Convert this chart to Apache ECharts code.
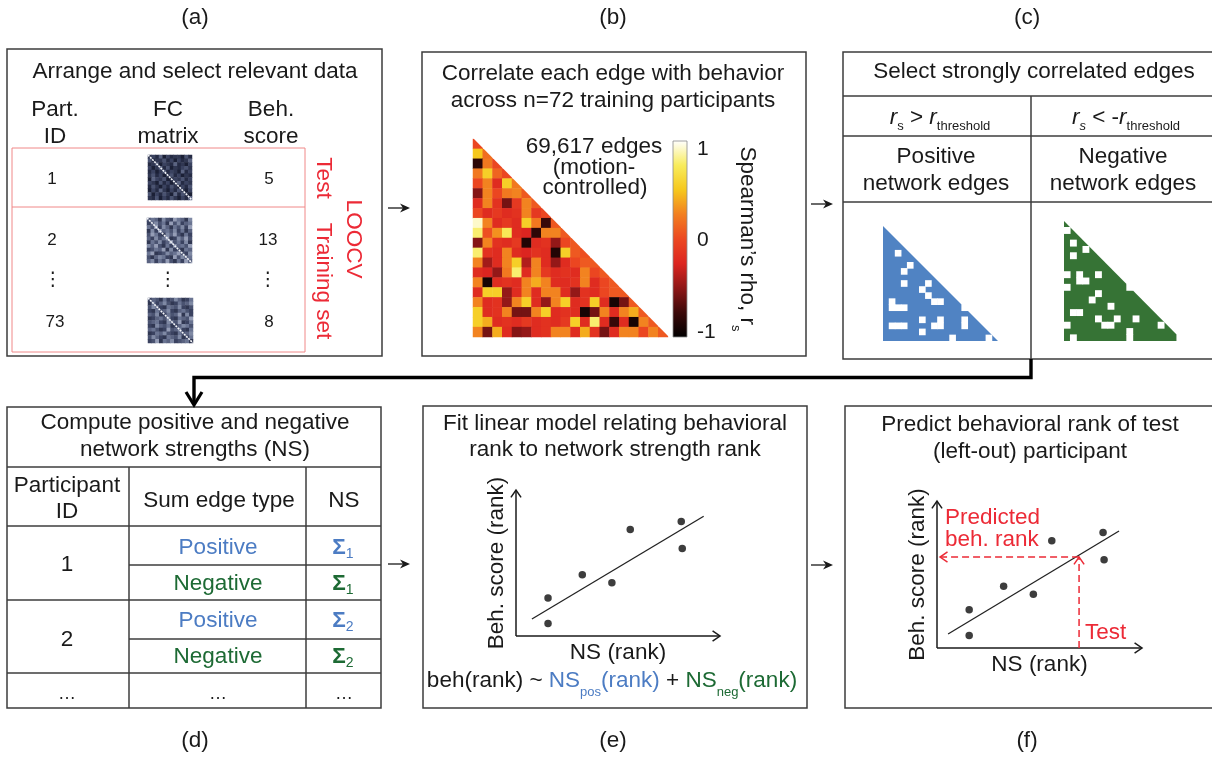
<!DOCTYPE html>
<html>
<head>
<meta charset="utf-8">
<title>Connectome-based predictive modelling pipeline</title>
<script src="https://cdn.jsdelivr.net/npm/echarts@6.0.0/dist/echarts.min.js"></script>
<style>
  html, body { margin: 0; padding: 0; background: #fff; }
  #chart { width: 1212px; height: 757px; }
</style>
</head>
<body>
<div id="chart"></div>
<script>
// ---------- values ----------
const panelLabels = ['(a)', '(b)', '(c)', '(d)', '(e)', '(f)'];

// (a) example participants and their behavioural scores
const participantIds = ['1', '2', '73'];
const behScores = ['5', '13', '8'];

// FC matrix thumbnails, one digit (0 dark .. 9 light) per cell
const fcMatrix1 = [
  '231503122041', '412241303125', '124032151203', '302514021342',
  '130241320513', '241302413021', '053240132413', '320413025132',
  '142031420314', '031520314203', '403142051420', '214031420315'
];
const fcMatrix2 = [
  '465274386527', '357462847356', '648375264738', '273856473625',
  '486327584263', '537468237584', '264735846372', '758426375648',
  '346582734265', '682347568437', '425763284756', '573648426385'
];
const fcMatrix73 = [
  '354263475236', '263574236457', '475326547324', '326457325643',
  '547236458273', '235647326548', '456327548236', '327546235764',
  '564238457326', '236574326457', '475326547236', '348265734562'
];

// (b) Spearman correlation of each edge with behaviour, lower triangle, row by row
const rhoRows = [
  [0.0],
  [0.55, 0.2],
  [-0.85, 0.25, 0.0],
  [0.25, 0.6, 0.15, 0.0],
  [0.0, 0.3, -0.2, 0.6, 0.25],
  [-0.55, 0.3, 0.0, 0.25, 0.3, 0.1],
  [-0.2, 0.3, -0.15, -0.6, -0.1, 0.3, 0.1],
  [0.0, -0.2, -0.1, -0.2, -0.15, 0.3, -0.1, 0.0],
  [1.0, 0.3, -0.2, -0.1, -0.2, 0.6, 0.25, -0.8, 0.1],
  [0.85, 0.05, 0.35, 0.8, -0.2, -0.25, -0.85, 0.3, 0.3, 0.1],
  [-0.55, 0.3, -0.15, -0.2, -0.1, -0.9, -0.2, -0.15, -0.5, 0.0, 0.1],
  [0.85, -0.15, -0.2, 0.3, -0.2, -0.25, -0.15, -0.2, -0.9, 0.6, 0.1, 0.05],
  [0.3, -0.45, -0.2, 0.3, 0.6, -0.4, 0.3, -0.2, -0.5, -0.2, 0.0, 0.1, 0.1],
  [-0.2, -0.25, -0.5, 0.25, 0.85, -0.2, 0.3, -0.1, -0.2, -0.15, -0.2, 0.3, 0.0, 0.1],
  [0.3, -0.95, -0.2, -0.15, -0.2, 0.3, 0.45, 0.3, -0.2, -0.2, -0.15, 0.3, -0.2, 0.0, 0.1],
  [-0.2, 0.6, 0.6, -0.5, -0.2, 0.3, -0.2, 0.3, 0.3, -0.2, -0.5, -0.15, -0.2, 0.0, 0.1, 0.1],
  [0.3, -0.2, -0.15, -0.5, 0.3, 0.6, -0.2, -0.5, 0.3, 0.6, -0.2, -0.15, 0.6, -0.2, -0.95, -0.6, 0.1],
  [0.6, -0.2, -0.15, 0.3, -0.6, -0.6, 0.3, 0.6, -0.2, -0.15, -0.2, -0.95, -0.6, 0.3, -0.2, 0.3, 0.45, 0.1],
  [0.6, 0.45, -0.2, -0.15, -0.2, -0.1, -0.2, -0.15, -0.2, -0.1, 0.6, -0.2, 0.85, -0.2, -0.8, -0.2, -0.95, 0.3, 0.1],
  [0.3, -0.6, 0.45, -0.2, -0.55, -0.5, -0.2, -0.15, 0.3, 0.3, -0.2, 0.45, -0.15, -0.6, -0.2, 0.3, 0.3, 0.0, 0.3, 0.1]
];
const rhoTicks = [-1, 0, 1];
const rhoAxisRange = [-1.055, 1.087];
const edgeNote = ['69,617 edges', '(motion-', 'controlled)'];

// (c) edges that fail the threshold, [row, col] on a 19 x 19 mask
const maskSize = 19;
const posHoles = [
  [4, 2], [6, 4], [7, 3], [9, 3], [9, 7], [10, 6], [11, 7], [12, 8], [12, 9], [12, 1],
  [13, 1], [13, 2], [13, 3], [13, 13], [15, 6], [15, 9], [15, 13], [16, 1], [16, 2], [16, 3],
  [16, 8], [16, 9], [16, 13], [17, 6], [18, 11], [18, 17]
];
const negHoles = [
  [1, 0], [3, 1], [4, 3], [5, 1], [8, 0], [8, 2], [8, 5], [9, 2], [9, 3], [10, 0],
  [10, 10], [11, 5], [12, 4], [13, 7], [14, 1], [14, 2], [15, 5], [15, 8], [15, 11], [16, 0],
  [16, 6], [16, 7], [16, 15], [17, 10], [18, 1], [18, 10], [18, 18]
];

// (e)/(f) network-strength rank vs behavioural rank of training participants
const nsRank = [1.57, 1.57, 3.25, 4.7, 5.6, 8.1, 8.15];
const behRank = [2.6, 0.85, 4.2, 3.65, 7.3, 7.85, 6.0];
const fitLineE = [[0.78, 1.16], [9.2, 8.2]];
const fitLineF = [[0.54, 0.95], [8.88, 7.96]];
const testNS = 6.93;
const predictedBeh = 6.19;

// ---------- styling ----------
const FONT = '"Liberation Sans", Arial, Helvetica, sans-serif';
const FS = 22.5;
const INK = '#1a1a1a';
const FRAME = '#3c3c3c';
const RED = '#ec2a36';
const BLUE_TXT = '#4c7cc3';
const GREEN_TXT = '#1d6a34';
const BLUE_FILL = '#5083c3';
const GREEN_FILL = '#367335';
const hotColors = ['#000000', '#3b0909', '#8e1717', '#dc2520', '#ec4821', '#f27f20', '#f6c81d', '#f8ec5c', '#ffffff'];
const fcColors = ['#1b2036', '#3a4260', '#6a7492', '#aab2c8'];

// ---------- derived series data ----------
const rhoData = [];
rhoRows.forEach((row, r) => row.forEach((v, c) => rhoData.push([c, r, v])));
const idx = n => Array.from({ length: n }, (_, i) => String(i));
const fcData = m => {
  const out = [];
  m.forEach((row, r) => row.split('').forEach((d, c) => out.push([c, r, Number(d)])));
  return out;
};
const holeData = h => h.map(([r, c]) => [c + 0.5, r + 0.5]);
const rankPoints = nsRank.map((x, i) => [x, behRank[i]]);
const axisArrows = [[0, 0, 10, 0], [0, 0, 0, 10]];
const predictArrows = [[testNS, 0, testNS, predictedBeh], [testNS, predictedBeh, 0.15, predictedBeh]];

// ---------- grids & axes ----------
const grids = [
  { left: 473, top: 139, width: 195, height: 198 },  // 0 correlation matrix
  { left: 673, top: 141, width: 14, height: 196 },   // 1 colour bar
  { left: 883, top: 226, width: 115, height: 115 },  // 2 positive mask
  { left: 1064, top: 221, width: 119, height: 120 }, // 3 negative mask
  { left: 516, top: 490, width: 204, height: 146 },  // 4 model fit
  { left: 937, top: 501, width: 205, height: 147 },  // 5 prediction
  { left: 148, top: 155, width: 44, height: 45 },    // 6-8 FC thumbnails
  { left: 147, top: 218, width: 45, height: 45 },
  { left: 148, top: 298, width: 45, height: 45 }
].map(g => Object.assign({ containLabel: false, outerBoundsMode: 'none' }, g));

const hidden = { axisLine: { show: false }, axisTick: { show: false }, axisLabel: { show: false }, splitLine: { show: false } };
const catAxis = (gi, n, inv) => Object.assign({ gridIndex: gi, type: 'category', data: idx(n), inverse: !!inv, show: false }, hidden);
const valAxis = (gi, min, max, inv, extra) => Object.assign({ gridIndex: gi, type: 'value', min, max, inverse: !!inv }, hidden, extra || {});

const nameStyle = { fontSize: FS, color: INK, fontFamily: FONT };
const xName = { name: 'NS (rank)', nameLocation: 'middle', nameGap: 5, nameTextStyle: Object.assign({ verticalAlign: 'top' }, nameStyle) };
const yName = { name: 'Beh. score (rank)', nameLocation: 'middle', nameGap: 8, nameRotate: 90, nameTextStyle: nameStyle };
const xAxes = [
  catAxis(0, 20),
  valAxis(1, 0, 1, false, { show: false }),
  valAxis(2, 0, maskSize, false, { show: false }),
  valAxis(3, 0, maskSize, false, { show: false }),
  valAxis(4, 0, 10, false, xName),
  valAxis(5, 0, 10, false, xName),
  catAxis(6, 12), catAxis(7, 12), catAxis(8, 12)
];
const yAxes = [
  catAxis(0, 20, true),
  {
    gridIndex: 1, type: 'value', min: rhoAxisRange[0], max: rhoAxisRange[1], position: 'right',
    axisLine: { show: false }, axisTick: { show: false }, splitLine: { show: false },
    axisLabel: { customValues: rhoTicks, fontSize: 21, color: INK, fontFamily: FONT, margin: 10 }
  },
  valAxis(2, 0, maskSize, true, { show: false }),
  valAxis(3, 0, maskSize, true, { show: false }),
  valAxis(4, 0, 10, false, yName),
  valAxis(5, 0, 10, false, yName),
  catAxis(6, 12, true), catAxis(7, 12, true), catAxis(8, 12, true)
];

// ---------- series helpers ----------
function arrowSeries(gi, segs, color, width, dash, head) {
  return {
    type: 'custom', coordinateSystem: 'cartesian2d', xAxisIndex: gi, yAxisIndex: gi,
    data: segs, clip: false, silent: true, z: 6,
    renderItem(params, api) {
      const a = api.coord([api.value(0), api.value(1)]);
      const b = api.coord([api.value(2), api.value(3)]);
      const ang = Math.atan2(b[1] - a[1], b[0] - a[0]);
      const sp = 0.6;
      const p1 = [b[0] - head * Math.cos(ang - sp), b[1] - head * Math.sin(ang - sp)];
      const p2 = [b[0] - head * Math.cos(ang + sp), b[1] - head * Math.sin(ang + sp)];
      return {
        type: 'group', children: [
          { type: 'line', shape: { x1: a[0], y1: a[1], x2: b[0], y2: b[1] }, style: { stroke: color, lineWidth: width, lineDash: dash || null } },
          { type: 'polyline', shape: { points: [p1, b, p2] }, style: { stroke: color, lineWidth: width, fill: null } }
        ]
      };
    }
  };
}
function maskTriangle(gi, fill) {
  return {
    type: 'custom', coordinateSystem: 'cartesian2d', xAxisIndex: gi, yAxisIndex: gi,
    data: [[0, 0]], silent: true, z: 2,
    renderItem(params, api) {
      return { type: 'polygon', shape: { points: [api.coord([0, 0]), api.coord([0, maskSize]), api.coord([maskSize, maskSize])] }, style: { fill } };
    }
  };
}
function holeSeries(gi, holes) {
  const g = grids[gi];
  return {
    type: 'scatter', xAxisIndex: gi, yAxisIndex: gi, data: holeData(holes), silent: true, z: 3,
    symbol: 'rect', symbolSize: [g.width / maskSize + 0.6, g.height / maskSize + 0.6],
    itemStyle: { color: '#ffffff', opacity: 1 }
  };
}
function fcSeries(gi, m) {
  return { type: 'heatmap', xAxisIndex: gi, yAxisIndex: gi, data: fcData(m), silent: true, itemStyle: { borderWidth: 0 } };
}
function fcDiagonal(gi) {
  return {
    type: 'custom', coordinateSystem: 'cartesian2d', xAxisIndex: gi, yAxisIndex: gi,
    data: [[0, 0]], silent: true, z: 4,
    renderItem(params, api) {
      const s = api.size([1, 1]);
      const a = api.coord([0, 0]), b = api.coord([11, 11]);
      return { type: 'line', shape: { x1: a[0] - s[0] / 2, y1: a[1] - s[1] / 2, x2: b[0] + s[0] / 2, y2: b[1] + s[1] / 2 }, style: { stroke: '#f2f4f8', lineWidth: 1.6, lineDash: [2, 1] } };
    }
  };
}
function scatterSeries(gi) {
  return { type: 'scatter', xAxisIndex: gi, yAxisIndex: gi, data: rankPoints, symbol: 'circle', symbolSize: 7.5, itemStyle: { color: '#0d0d0d' }, silent: true, z: 5 };
}
function fitSeries(gi, pts) {
  return { type: 'line', xAxisIndex: gi, yAxisIndex: gi, data: pts, symbol: 'none', silent: true, z: 4, lineStyle: { color: '#222', width: 1.3 } };
}

const series = [
  // 0 correlation matrix
  { type: 'heatmap', xAxisIndex: 0, yAxisIndex: 0, data: rhoData, silent: true, itemStyle: { borderWidth: 0 } },
  // 1 upper triangle blanked along the diagonal
  {
    type: 'custom', coordinateSystem: 'cartesian2d', xAxisIndex: 0, yAxisIndex: 0, data: [[0, 0]], silent: true, z: 4,
    renderItem(params, api) {
      const s = api.size([1, 1]);
      const n = rhoRows.length;
      const tl = api.coord([0, 0]), br = api.coord([n - 1, n - 1]);
      const x0 = tl[0] - s[0] / 2, y0 = tl[1] - s[1] / 2, x1 = br[0] + s[0] / 2, y1 = br[1] + s[1] / 2;
      return { type: 'polygon', shape: { points: [[x0, y0 - 1], [x1 + 1, y0 - 1], [x1 + 1, y1]] }, style: { fill: '#ffffff' } };
    }
  },
  // 2 colour bar
  {
    type: 'custom', coordinateSystem: 'cartesian2d', xAxisIndex: 1, yAxisIndex: 1, data: [[0, 0]], silent: true, z: 3,
    renderItem(params, api) {
      const a = api.coord([0, rhoAxisRange[1]]), b = api.coord([1, rhoAxisRange[0]]);
      const n = hotColors.length;
      const stops = hotColors.map((c, i) => ({ offset: 1 - i / (n - 1), color: c })).reverse();
      return {
        type: 'rect', shape: { x: a[0], y: a[1], width: b[0] - a[0], height: b[1] - a[1] },
        style: { fill: new echarts.graphic.LinearGradient(0, 0, 0, 1, stops), stroke: '#8c8c8c', lineWidth: 0.8 }
      };
    }
  },
  // 3-6 thresholded masks
  maskTriangle(2, BLUE_FILL), holeSeries(2, posHoles),
  maskTriangle(3, GREEN_FILL), holeSeries(3, negHoles),
  // 7-9 model fit
  scatterSeries(4), fitSeries(4, fitLineE), arrowSeries(4, axisArrows, INK, 1.5, null, 9),
  // 10-13 prediction
  scatterSeries(5), fitSeries(5, fitLineF), arrowSeries(5, axisArrows, INK, 1.5, null, 9),
  arrowSeries(5, predictArrows, RED, 1.5, [7, 4], 9),
  // 14-16 FC thumbnails
  fcSeries(6, fcMatrix1), fcSeries(7, fcMatrix2), fcSeries(8, fcMatrix73),
  // 17-19 thumbnail diagonals
  fcDiagonal(6), fcDiagonal(7), fcDiagonal(8)
];

// ---------- annotation helpers ----------
function T(x, y, text, o) {
  o = o || {};
  const align = o.align || 'center';
  return {
    type: 'text', x, y, rotation: o.rot || 0, z: 20, silent: true,
    style: {
      text, fill: o.color || INK,
      font: (o.weight || 'normal') + ' ' + (o.size || FS) + 'px ' + (o.family || FONT),
      align, verticalAlign: 'middle', textAlign: align, textVerticalAlign: 'middle'
    }
  };
}
const tok = (size, extra) => Object.assign({ fontSize: size, fontFamily: FONT, fill: INK, verticalAlign: 'top', lineHeight: size === FS ? 24 : size }, extra || {});
const sub = (pad, extra) => tok(13, Object.assign({ lineHeight: 13, padding: [pad, 0, 0, 0] }, extra || {}));
function R(x, y, text, rich, o) {
  o = o || {};
  const align = o.align || 'center';
  return {
    type: 'text', x, y, rotation: o.rot || 0, z: 20, silent: true,
    style: { text, rich, x: 0, y: -12, align, verticalAlign: 'top', textAlign: align, textVerticalAlign: 'top' }
  };
}
const rect = (x, y, w, h, stroke, lw) => ({ type: 'rect', z: 15, silent: true, shape: { x, y, width: w, height: h }, style: { fill: 'none', stroke: stroke || FRAME, lineWidth: lw || 1.5 } });
const ln = (x1, y1, x2, y2, stroke, lw) => ({ type: 'line', z: 15, silent: true, shape: { x1, y1, x2, y2 }, style: { stroke: stroke || FRAME, lineWidth: lw || 1.5 } });
function stepArrow(x0, x1, y) {
  return [
    ln(x0, y, x1 - 5, y, INK, 1.3),
    { type: 'polygon', z: 15, silent: true, shape: { points: [[x1, y], [x1 - 10, y - 4.5], [x1 - 7, y], [x1 - 10, y + 4.5]] }, style: { fill: INK } }
  ];
}

const els = [];
// panel letters
[[195, 18], [613, 18], [1027, 18], [195, 741], [613, 741], [1027, 741]].forEach((p, i) => els.push(T(p[0], p[1], panelLabels[i])));

// panel frames
els.push(rect(7, 49, 375, 307), rect(422, 52, 384, 304), rect(843, 52, 400, 307),
          rect(7, 407, 374, 301), rect(423, 406, 384, 302), rect(845, 406, 400, 302));

// (a)
els.push(T(195, 72, 'Arrange and select relevant data'));
els.push(T(55, 110, 'Part.'), T(55, 137, 'ID'), T(168, 110, 'FC'), T(168, 137, 'matrix'), T(271, 110, 'Beh.'), T(271, 137, 'score'));
els.push(rect(12, 148, 293, 204, '#f08888', 1), ln(12, 207, 305, 207, '#f08888', 1));
[[179, 0], [240, 1], [322, 2]].forEach(([y, i]) => {
  els.push(T(i === 2 ? 55 : 52, y, participantIds[i], { size: 17 }));
  els.push(T(i === 1 ? 268 : 269, y, behScores[i], { size: 17 }));
});
[53, 168, 268].forEach(x => els.push(T(x, 280, '⋮', { size: 19, family: '"DejaVu Sans", sans-serif' })));
els.push(T(323, 178, 'Test', { color: RED, rot: -Math.PI / 2 }));
els.push(T(323, 281, 'Training set', { color: RED, rot: -Math.PI / 2 }));
els.push(T(353, 239, 'LOOCV', { color: RED, rot: -Math.PI / 2 }));
els.push(...stepArrow(388, 410, 208));

// (b)
els.push(T(613, 74, 'Correlate each edge with behavior'), T(613, 101, 'across n=72 training participants'));
els.push(T(594, 147, edgeNote[0]), T(594, 168, edgeNote[1]), T(595, 188, edgeNote[2]));
els.push(R(747, 239, '{m|Spearman’s rho, r}{s|s}', { m: tok(FS), s: sub(16.5) }, { rot: -Math.PI / 2 }));
els.push(...stepArrow(811, 833, 204));

// (c)
els.push(T(1034, 72, 'Select strongly correlated edges'));
els.push(ln(843, 96, 1213, 96), ln(843, 136, 1213, 136), ln(843, 202, 1213, 202), ln(1031, 96, 1031, 359));
const thrRich = { i: tok(FS, { fontStyle: 'italic' }), m: tok(FS), s: sub(13.5), si: sub(13.5, { fontStyle: 'italic' }), t: sub(13.5) };
els.push(R(940, 118, '{i|r}{s|s}{m| > }{i|r}{t|threshold}', thrRich));
els.push(R(1126, 118, '{i|r}{si|s}{m| < -}{i|r}{t|threshold}', thrRich));
els.push(T(936, 157, 'Positive'), T(936, 184, 'network edges'), T(1123, 157, 'Negative'), T(1123, 184, 'network edges'));

// connector from (c) down to (d)
els.push({ type: 'polyline', z: 15, silent: true, shape: { points: [[1031, 359], [1031, 377.5], [194, 377.5], [194, 404]] }, style: { stroke: '#000', lineWidth: 3.4, fill: null } });
els.push({ type: 'polyline', z: 15, silent: true, shape: { points: [[186, 392], [194, 405], [202, 392]] }, style: { stroke: '#000', lineWidth: 3.2, fill: null } });

// (d)
els.push(T(195, 423, 'Compute positive and negative'), T(195, 450, 'network strengths (NS)'));
els.push(ln(7, 467, 381, 467), ln(129, 467, 129, 708), ln(306, 467, 306, 708), ln(7, 526, 381, 526),
          ln(129, 565, 381, 565), ln(7, 600, 381, 600), ln(129, 639, 381, 639), ln(7, 673, 381, 673));
els.push(T(67, 486, 'Participant'), T(67, 512, 'ID'), T(219, 501, 'Sum edge type'), T(344, 501, 'NS'));
const sigRich = c => ({ b: tok(FS, { fontWeight: 'bold', fill: c }), n: tok(14, { fill: c, lineHeight: 14, padding: [11, 0, 0, 0] }) });
[[565, 548, 584, '1'], [640, 621, 657, '2']].forEach(([yc, yp, yn, k]) => {
  els.push(T(67, yc, k));
  els.push(T(218, yp, 'Positive', { color: BLUE_TXT }), T(218, yn, 'Negative', { color: GREEN_TXT }));
  els.push(R(343, yp, '{b|Σ}{n|' + k + '}', sigRich(BLUE_TXT)), R(343, yn, '{b|Σ}{n|' + k + '}', sigRich(GREEN_TXT)));
});
els.push(T(67, 694, '…', { size: 18 }), T(218, 694, '…', { size: 18 }), T(344, 694, '…', { size: 18 }));
els.push(...stepArrow(388, 410, 564));

// (e)
els.push(T(615, 424, 'Fit linear model relating behavioral'), T(615, 450, 'rank to network strength rank'));
els.push(R(612, 681, '{k|beh(rank) ~ }{b|NS}{bs|pos}{b|(rank)}{k| + }{g|NS}{gs|neg}{g|(rank)}', {
  k: tok(FS), b: tok(FS, { fill: BLUE_TXT }), g: tok(FS, { fill: GREEN_TXT }),
  bs: sub(16.5, { fill: BLUE_TXT }), gs: sub(16.5, { fill: GREEN_TXT })
}));
els.push(...stepArrow(811, 833, 565));

// (f)
els.push(T(1030, 425, 'Predict behavioral rank of test'), T(1030, 452, '(left-out) participant'));
els.push(T(945, 518, 'Predicted', { color: RED, align: 'left' }), T(945, 540, 'beh. rank', { color: RED, align: 'left' }));
els.push(T(1085, 633, 'Test', { color: RED, align: 'left' }));

const option = {
  backgroundColor: '#ffffff',
  animation: false,
  grid: grids,
  xAxis: xAxes,
  yAxis: yAxes,
  visualMap: [
    { type: 'continuous', show: false, seriesIndex: 0, dimension: 2, min: rhoAxisRange[0], max: rhoAxisRange[1], inRange: { color: hotColors } },
    { type: 'continuous', show: false, seriesIndex: [14, 15, 16], dimension: 2, min: 0, max: 9, inRange: { color: fcColors } }
  ],
  series,
  graphic: { elements: els }
};

const chart = echarts.init(document.getElementById('chart'), null, { renderer: 'canvas' });
chart.setOption(option);
</script>
</body>
</html>
